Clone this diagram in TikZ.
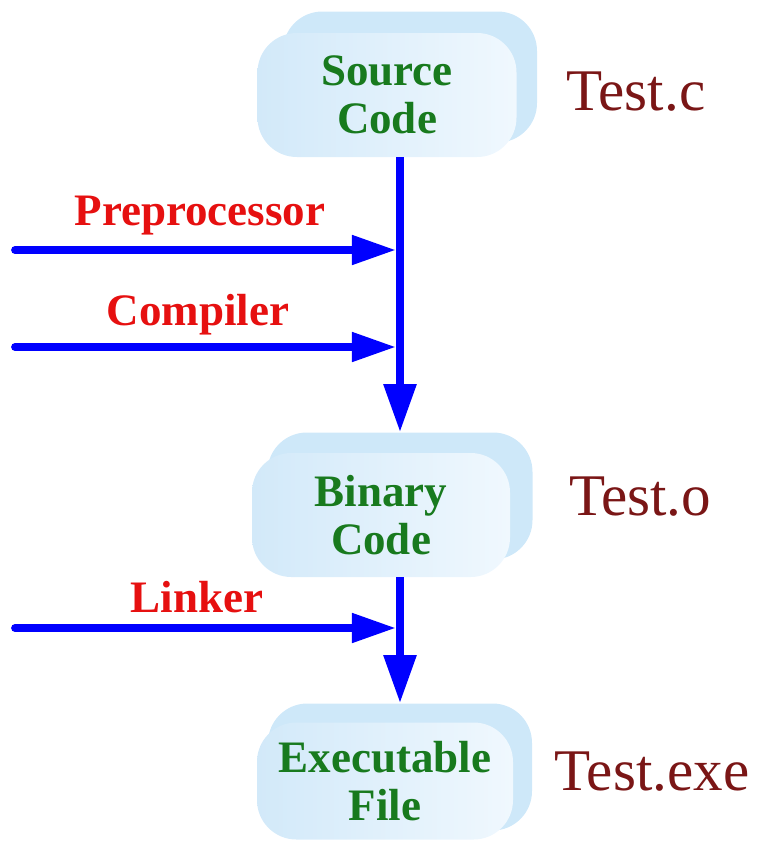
\documentclass[tikz,border=0pt]{standalone}
\usepackage{fontspec}
\setmainfont{Liberation Serif}
\usepackage{tikz}
\usetikzlibrary{arrows.meta,calc,shapes}
\usepackage{xcolor}
\definecolor{boxback}{RGB}{206,232,249}
\definecolor{boxin}{RGB}{240,248,254}
\definecolor{boxout}{RGB}{210,233,249}
\definecolor{txtgreen}{RGB}{24,122,30}
\definecolor{txtred}{RGB}{230,16,16}
\definecolor{filered}{RGB}{122,22,22}

\begin{document}
\begin{tikzpicture}[x=0.025cm,y=-0.025cm]
		\tikzstyle{backbox}=[rectangle, rounded corners=28, fill=boxback, inner sep=0pt]
		\tikzstyle{frontbox}=[rectangle, rounded corners=28, left color=boxout, right color=boxin,
			text=txtgreen, font=\fontsize{32}{34}\selectfont\bfseries, align=center, inner sep=0pt]
		\tikzstyle{tool}=[text=txtred, font=\fontsize{32}{34}\selectfont\bfseries, inner sep=0pt]
		\tikzstyle{file}=[text=filered, font=\fontsize{42}{44}\selectfont, inner sep=0pt]
		\tikzstyle{flow}=[draw=blue, line width=5.7pt, -{Triangle[length=1.2cm,width=0.78cm]}]
		\tikzstyle{feed}=[draw=blue, line width=5.5pt, line cap=round, -{Triangle[length=1.1cm,width=0.7cm]}]
		\useasboundingbox (0,0) rectangle (760,843);
		% source code
		\node [backbox, minimum width=254*0.025cm, minimum height=131*0.025cm] (srcB) at (410,77) {};
		\node [frontbox, minimum width=259*0.025cm, minimum height=124*0.025cm] (src) at (387,95) {Source\\Code};
		\node [file] (srcfile) at (636,92) {Test.c};
		% binary code
		\node [backbox, minimum width=265*0.025cm, minimum height=127*0.025cm] (binB) at (400,496) {};
		\node [frontbox, minimum width=258*0.025cm, minimum height=124*0.025cm] (bin) at (381,515) {Binary\\Code};
		\node [file] (binfile) at (640,497) {Test.o};
		% executable
		\node [backbox, minimum width=264*0.025cm, minimum height=127*0.025cm] (exeB) at (400,767) {};
		\node [frontbox, minimum width=256*0.025cm, minimum height=117*0.025cm] (exe) at (385,781) {Executable\\File};
		\node [file] (exefile) at (652,772) {Test.exe};
		% tools
		\node [tool] (pp) at (200,216) {Preprocessor};
		\node [tool] (cc) at (198,315) {Compiler};
		\node [tool] (ld) at (197,597) {Linker};
		\coordinate (ppin) at (15,250);
		\coordinate (ccin) at (15,347);
		\coordinate (ldin) at (15,628);
		% arrows
		\draw [flow] (src.south -| binB.north) -- (binB.north);
		\draw [flow] (bin.south -| exeB.north) -- (exeB.north);
		\draw [feed, shorten >=4*0.025cm] (ppin) -- (ppin -| binB.north);
		\draw [feed, shorten >=4*0.025cm] (ccin) -- (ccin -| binB.north);
		\draw [feed, shorten >=4*0.025cm] (ldin) -- (ldin -| exeB.north);
\end{tikzpicture}
\end{document}
